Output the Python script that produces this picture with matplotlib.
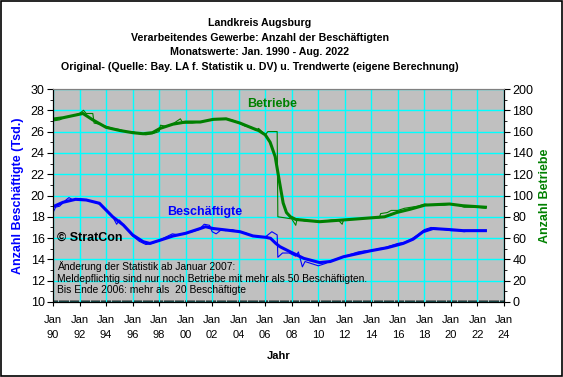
import numpy as np
import matplotlib
matplotlib.use("Agg")
import matplotlib.pyplot as plt
from matplotlib.patches import Rectangle
from matplotlib.ticker import MultipleLocator

plt.rcParams['font.family'] = ['Liberation Sans', 'DejaVu Sans']

# Beschaeftigte (Tsd.) - Trend
bes_trend_jahr = [1990.0, 1990.75, 1991.7, 1992.5, 1993.5, 1994.5, 1995.3, 1996.0, 1996.8, 1997.3,
                  1998.07, 1999.05, 2000.0, 2001.1, 2001.5, 2002.07, 2003.05, 2004.1, 2005.08, 2006.06,
                  2006.4, 2006.8, 2007.1, 2007.9, 2008.9, 2010.1, 2010.9, 2011.9, 2013.9, 2015.2,
                  2016.4, 2017.15, 2017.9, 2018.65, 2019.9, 2020.9, 2022.6]
bes_trend = [18.95, 19.36, 19.64, 19.58, 19.27, 18.0, 17.23, 16.3, 15.66, 15.5,
             15.8, 16.2, 16.45, 16.9, 17.07, 16.9, 16.76, 16.6, 16.2, 16.07,
             15.98, 15.5, 15.2, 14.7, 14.1, 13.7, 13.8, 14.25, 14.8, 15.1,
             15.5, 15.9, 16.6, 16.9, 16.8, 16.7, 16.7]

# Beschaeftigte (Tsd.) - Originalwerte
bes_orig_jahr = [1990.0, 1990.2, 1990.5, 1990.9, 1991.2, 1991.5, 1992.0, 1992.5, 1993.0, 1993.5,
                 1994.0, 1994.5, 1994.8, 1995.0, 1995.5, 1996.0, 1996.5, 1997.0, 1997.5, 1998.0,
                 1998.5, 1999.0, 1999.5, 2000.0, 2000.5, 2001.0, 2001.4, 2001.8, 2002.0, 2002.3,
                 2002.7, 2003.0, 2003.5, 2004.0, 2004.5, 2005.0, 2005.5, 2006.0, 2006.5, 2006.9,
                 2006.95, 2007.3, 2007.8, 2008.3, 2008.5, 2008.8, 2009.0, 2009.5, 2010.0, 2010.5,
                 2011.0, 2011.5, 2012.0, 2012.5, 2013.0, 2013.5, 2014.0, 2014.5, 2015.0, 2015.5,
                 2016.0, 2016.5, 2017.0, 2017.5, 2018.0, 2018.5, 2019.0, 2019.5, 2020.0, 2020.5,
                 2021.0, 2021.5, 2022.0, 2022.6]
bes_orig = [18.4, 18.9, 19.0, 19.5, 19.8, 19.6, 19.7, 19.6, 19.4, 19.2,
            18.6, 18.0, 17.3, 17.7, 17.0, 16.2, 15.7, 15.4, 15.5, 15.8,
            16.1, 16.4, 16.3, 16.5, 16.6, 16.8, 17.3, 17.2, 16.6, 16.4,
            16.8, 16.7, 16.8, 16.6, 16.5, 16.2, 16.1, 16.1, 16.6, 16.3,
            14.2, 14.6, 14.6, 14.3, 14.7, 13.3, 13.8, 13.6, 13.4, 13.6,
            13.9, 14.1, 14.3, 14.5, 14.7, 14.8, 14.8, 15.0, 15.1, 15.3,
            15.5, 15.6, 15.9, 16.3, 16.8, 17.0, 16.9, 16.8, 16.7, 16.7,
            16.6, 16.7, 16.7, 16.7]

# Betriebe - Trend
bet_trend_jahr = [1990.0, 1990.75, 1991.5, 1992.26, 1993.0, 1994.0, 1995.05, 1996.0, 1996.8, 1997.5,
                  1998.07, 1999.05, 2000.0, 2001.1, 2002.07, 2003.05, 2004.1, 2005.08, 2005.5, 2006.0,
                  2006.37, 2006.75, 2007.05, 2007.35, 2007.6, 2007.9, 2008.3, 2010.1, 2012.6, 2015.0,
                  2015.9, 2016.9, 2018.05, 2019.9, 2020.9, 2022.6]
bet_trend = [171.8, 173, 175, 177, 171, 164, 161, 159, 158, 159,
             163, 167, 169, 169, 171.5, 172, 168, 163, 161, 157,
             150, 136.5, 114.5, 93, 84, 80, 77.5, 75.4, 77.7, 80,
             84, 87, 91, 92, 90.4, 89]

# Betriebe - Originalwerte
bet_orig_jahr = [1990.0, 1990.5, 1991.0, 1991.5, 1992.0, 1992.3, 1992.5, 1993.0, 1993.1, 1993.5,
                 1994.0, 1994.5, 1995.0, 1995.5, 1996.0, 1996.5, 1997.0, 1997.5, 1998.0, 1998.1,
                 1998.5, 1999.0, 1999.6, 1999.8, 2000.5, 2001.0, 2001.5, 2002.0, 2002.5, 2003.0,
                 2003.5, 2004.0, 2004.5, 2005.0, 2005.3, 2005.5, 2006.0, 2006.2, 2006.9, 2006.95,
                 2007.5, 2008.0, 2008.3, 2008.4, 2009.0, 2009.5, 2010.0, 2010.5, 2011.0, 2011.5,
                 2011.8, 2011.9, 2012.5, 2013.0, 2013.5, 2014.0, 2014.6, 2014.7, 2015.2, 2015.5,
                 2016.0, 2016.5, 2017.0, 2017.5, 2018.0, 2018.5, 2019.0, 2019.5, 2020.0, 2020.5,
                 2021.0, 2021.5, 2022.0, 2022.6]
bet_orig = [170, 171, 174, 175, 177, 180, 177, 177, 168, 167,
            165, 163, 162, 160, 160, 158, 157, 158, 160, 166,
            165, 167, 172, 168, 168, 169, 170, 171, 172, 172,
            171, 168, 165, 164, 161, 163, 157, 160, 160, 80,
            79, 78, 72, 78, 76, 76, 75, 76, 77, 77,
            73, 77, 78, 78, 79, 79, 79, 83, 84, 86,
            86, 88, 89, 90, 92, 91, 91, 91, 92, 91,
            89, 89, 89, 88]

x_ticks = list(range(1990, 2025, 2))
x_labels = ["Jan\n%02d" % (j % 100) for j in x_ticks]

titel = ("Landkreis Augsburg\n"
         "Verarbeitendes Gewerbe: Anzahl der Beschäftigten\n"
         "Monatswerte: Jan. 1990 - Aug. 2022\n"
         "Original- (Quelle: Bay. LA f. Statistik u. DV) u. Trendwerte (eigene Berechnung)")

blau = '#0000FF'
gruen = '#008000'

fig = plt.figure(figsize=(5.63, 3.77), dpi=100)
fig.patch.set_facecolor('white')
fig.patches.append(Rectangle((0.001, 0.002), 0.997, 0.995, transform=fig.transFigure,
                             fill=False, edgecolor='black', linewidth=1.2))

ax = fig.add_axes([53 / 563, 1 - 302 / 377, 451 / 563, 213 / 377])
ax.set_facecolor('#C0C0C0')
ax.set_xlim(1990, 2024)
ax.set_ylim(10, 30)
ax.set_xticks(x_ticks)
ax.set_xticklabels(x_labels, fontsize=8)
for lbl in ax.get_xticklabels():
    lbl.set_linespacing(1.55)
ax.xaxis.set_minor_locator(MultipleLocator(1 / 12))
ax.yaxis.set_major_locator(MultipleLocator(2))
ax.yaxis.set_minor_locator(MultipleLocator(1))
ax.tick_params(axis='y', which='major', labelsize=9, length=4, pad=2)
ax.tick_params(axis='y', which='minor', length=2)
ax.tick_params(axis='x', which='major', length=3, pad=6.5)
ax.tick_params(axis='x', which='minor', length=1.5, direction='in')
ax.grid(True, which='major', color='#00FFFF', linewidth=1.0)
ax.set_axisbelow(True)
ax.spines['top'].set_color('#808080')

ax.plot(bes_orig_jahr, bes_orig, color=blau, linewidth=0.8)
ax.plot(bes_trend_jahr, bes_trend, color=blau, linewidth=2.2)

ax.set_ylabel('Anzahl Beschäftigte (Tsd.)', color=blau, fontsize=9, fontweight='bold', labelpad=5)
ax.set_xlabel('Jahr', fontsize=8, fontweight='bold', labelpad=8)

ax2 = ax.twinx()
ax2.set_ylim(0, 200)
ax2.yaxis.set_major_locator(MultipleLocator(20))
ax2.yaxis.set_minor_locator(MultipleLocator(10))
ax2.tick_params(axis='y', which='major', labelsize=9, length=4, pad=2)
ax2.tick_params(axis='y', which='minor', length=2)
ax2.spines['top'].set_color('#808080')
ax2.plot(bet_orig_jahr, bet_orig, color=gruen, linewidth=0.8)
ax2.plot(bet_trend_jahr, bet_trend, color=gruen, linewidth=2.2)
ax2.set_ylabel('Anzahl Betriebe', color=gruen, fontsize=9, fontweight='bold', labelpad=4)

ax.text(2006.5, 28.6, 'Betriebe', color=gruen, fontsize=9, fontweight='bold', ha='center', va='center')
ax.text(2001.4, 18.45, 'Beschäftigte', color=blau, fontsize=9, fontweight='bold', ha='center', va='center')
ax.text(1990.3, 16.0, '© StratCon', color='black', fontsize=9, fontweight='bold', ha='left', va='center')
ax.text(1990.3, 13.3, 'Änderung der Statistik ab Januar 2007:', fontsize=7.4, ha='left', va='center')
ax.text(1990.3, 12.15, 'Meldepflichtig sind nur noch Betriebe mit mehr als 50 Beschäftigten.',
        fontsize=7.4, ha='left', va='center')
ax.text(1990.3, 11.15, 'Bis Ende 2006: mehr als  20 Beschäftigte', fontsize=7.4, ha='left', va='center')

fig.text(260 / 563, 1 - 45 / 377, titel, ha='center', va='center', fontsize=7.7, fontweight='bold',
         linespacing=1.55)

fig.savefig('out.png', dpi=100)
